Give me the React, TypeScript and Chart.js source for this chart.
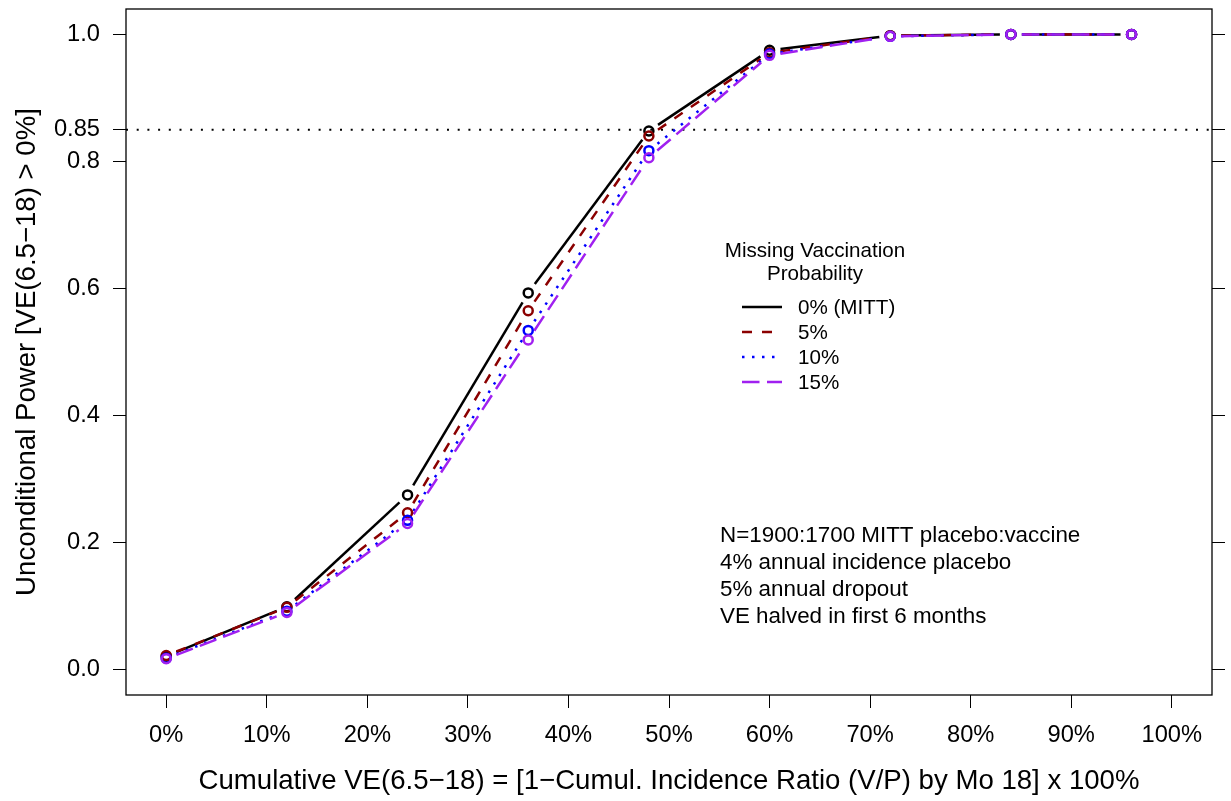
import React, { useEffect, useRef } from "react";
import { Chart, registerables } from "chart.js";

Chart.register(...registerables);

// ---------- data ----------
const veLevels = [0, 12, 24, 36, 48, 60, 72, 84, 96];
const powerMITT = [0.021, 0.099, 0.275, 0.593, 0.848, 0.975, 0.998, 1.0, 1.0];
const power5 = [0.022, 0.098, 0.247, 0.565, 0.84, 0.971, 0.998, 1.0, 1.0];
const power10 = [0.018, 0.092, 0.235, 0.534, 0.817, 0.969, 0.997, 1.0, 1.0];
const power15 = [0.017, 0.09, 0.23, 0.519, 0.806, 0.967, 0.997, 1.0, 1.0];
const seriesLabels = ["0% (MITT)", "5%", "10%", "15%"];

const xTickValues = [0, 10, 20, 30, 40, 50, 60, 70, 80, 90, 100];
const xTickLabels = ["0%", "10%", "20%", "30%", "40%", "50%", "60%", "70%", "80%", "90%", "100%"];
const yTickValues = [0, 0.2, 0.4, 0.6, 0.8, 0.85, 1.0];
const yTickLabels = ["0.0", "0.2", "0.4", "0.6", "0.8", "0.85", "1.0"];
const powerTarget = 0.85;

const legendTitle = ["Missing Vaccination", "Probability"];
const noteLines = [
  "N=1900:1700 MITT placebo:vaccine",
  "4% annual incidence placebo",
  "5% annual dropout",
  "VE halved in first 6 months",
];
const xTitle = "Cumulative VE(6.5\u221218) = [1\u2212Cumul. Incidence Ratio (V/P) by Mo 18] x 100%";
const yTitle = "Unconditional Power [VE(6.5\u221218) > 0%]";

// ---------- styles ----------
const FONT = "'Liberation Sans', Arial, Helvetica, sans-serif";
const colors = ["#000000", "#8B0000", "#0000FF", "#A020F0"];
const dashes = [[], [10, 10], [2.5, 7.5], [17.5, 7.5]];
const LW = 2.5;
const GAP = 11;

const rPlot = {
  id: "rPlot",
  beforeDatasetsDraw(chart: any) {
    const { ctx, chartArea: a, scales } = chart;
    const y = scales.y;
    ctx.save();
    // dotted reference line
    ctx.strokeStyle = "#000";
    ctx.lineWidth = 2;
    ctx.lineCap = "butt";
    ctx.setLineDash([2, 8.7]);
    const yy = y.getPixelForValue(powerTarget);
    ctx.beginPath();
    ctx.moveTo(a.left, yy);
    ctx.lineTo(a.right, yy);
    ctx.stroke();
    // R type="b" lines with gaps around points
    chart.data.datasets.forEach((ds: any, i: number) => {
      const meta = chart.getDatasetMeta(i);
      ctx.strokeStyle = colors[i];
      ctx.lineWidth = LW;
      ctx.setLineDash(dashes[i]);
      for (let k = 0; k < meta.data.length - 1; k++) {
        const p1 = meta.data[k];
        const p2 = meta.data[k + 1];
        const dx = p2.x - p1.x;
        const dy = p2.y - p1.y;
        const d = Math.sqrt(dx * dx + dy * dy);
        if (d <= 2 * GAP) continue;
        const ux = dx / d;
        const uy = dy / d;
        ctx.lineDashOffset = 0;
        ctx.beginPath();
        ctx.moveTo(p1.x + ux * GAP, p1.y + uy * GAP);
        ctx.lineTo(p2.x - ux * GAP, p2.y - uy * GAP);
        ctx.stroke();
      }
    });
    ctx.restore();
  },
  afterDraw(chart: any) {
    const { ctx, chartArea: a } = chart;
    ctx.save();
    ctx.setLineDash([]);
    // box
    ctx.strokeStyle = "#000";
    ctx.lineWidth = 1.3;
    ctx.strokeRect(a.left, a.top, a.right - a.left, a.bottom - a.top);

    ctx.fillStyle = "#000";
    // legend
    ctx.font = `20.6px ${FONT}`;
    ctx.textAlign = "center";
    ctx.textBaseline = "middle";
    ctx.fillText(legendTitle[0], 815, 251);
    ctx.fillText(legendTitle[1], 815, 274);
    ctx.textAlign = "left";
    seriesLabels.forEach((lab, i) => {
      const ry = 307 + i * 25;
      ctx.strokeStyle = colors[i];
      ctx.lineWidth = LW;
      ctx.setLineDash(dashes[i]);
      ctx.lineDashOffset = 0;
      ctx.beginPath();
      ctx.moveTo(742, ry);
      ctx.lineTo(782, ry);
      ctx.stroke();
      ctx.fillText(lab, 798, ry + 1);
    });
    ctx.setLineDash([]);

    // notes
    ctx.font = `22.4px ${FONT}`;
    noteLines.forEach((t, i) => ctx.fillText(t, 720, 536 + i * 27));

    // axis titles
    ctx.font = `27.6px ${FONT}`;
    ctx.textAlign = "center";
    ctx.fillText(xTitle, (a.left + a.right) / 2, 781);
    ctx.translate(27, (a.top + a.bottom) / 2);
    ctx.rotate(-Math.PI / 2);
    ctx.fillText(yTitle, 0, 0);
    ctx.restore();
  },
};

export default function App() {
  const ref = useRef<HTMLCanvasElement>(null);
  useEffect(() => {
    if (!ref.current) return;
    const series = [powerMITT, power5, power10, power15];
    const yTicksBuild = (scale: any) => {
      scale.ticks = yTickValues.map((v) => ({ value: v }));
    };
    const gridCommon = {
      display: true,
      drawOnChartArea: false,
      drawTicks: true,
      tickLength: 13,
      color: "#000",
      lineWidth: 1,
    };
    const tickFont = { family: FONT, size: 23.7, lineHeight: 1.2 };
    const chart = new Chart(ref.current, {
      type: "scatter",
      data: {
        datasets: series.map((vals, i) => ({
          label: seriesLabels[i],
          data: veLevels.map((x, k) => ({ x, y: vals[k] })),
          showLine: false,
          borderColor: colors[i],
          backgroundColor: "rgba(0,0,0,0)",
          pointBackgroundColor: "rgba(0,0,0,0)",
          pointBorderColor: colors[i],
          pointBorderWidth: 2.5,
          pointRadius: 4.5,
          pointHoverRadius: 4.5,
          order: 3 - i,
          clip: false as any,
        })),
      },
      options: {
        animation: false,
        responsive: false,
        events: [],
        layout: { padding: { top: 9, left: 0, right: 0, bottom: 0 } },
        plugins: {
          legend: { display: false },
          tooltip: { enabled: false },
          title: { display: false },
        },
        scales: {
          x: {
            type: "linear",
            position: "bottom",
            min: -4,
            max: 104,
            afterBuildTicks: (scale: any) => {
              scale.ticks = xTickValues.map((v) => ({ value: v }));
            },
            afterFit: (scale: any) => {
              scale.height = 106;
              scale.paddingLeft = 0;
              scale.paddingRight = 0;
            },
            grid: gridCommon,
            border: { display: false },
            ticks: {
              autoSkip: false,
              maxRotation: 0,
              minRotation: 0,
              padding: 13,
              color: "#000",
              font: tickFont,
              callback: (v: any) => {
                const idx = xTickValues.indexOf(Number(v));
                return idx >= 0 ? xTickLabels[idx] : "";
              },
            },
          },
          y: {
            type: "linear",
            position: "left",
            min: -0.04,
            max: 1.04,
            afterBuildTicks: yTicksBuild,
            afterFit: (scale: any) => {
              scale.width = 126;
              scale.paddingTop = 0;
              scale.paddingBottom = 0;
            },
            grid: gridCommon,
            border: { display: false },
            ticks: {
              autoSkip: false,
              padding: 13,
              color: "#000",
              font: tickFont,
              callback: (v: any) => {
                const idx = yTickValues.findIndex((t) => Math.abs(t - Number(v)) < 1e-9);
                return idx >= 0 ? yTickLabels[idx] : "";
              },
            },
          },
          y2: {
            type: "linear",
            position: "right",
            min: -0.04,
            max: 1.04,
            afterBuildTicks: yTicksBuild,
            afterFit: (scale: any) => {
              scale.width = 19;
              scale.paddingTop = 0;
              scale.paddingBottom = 0;
            },
            grid: gridCommon,
            border: { display: false },
            ticks: { display: false },
          },
        },
      } as any,
      plugins: [rPlot],
    });
    return () => chart.destroy();
  }, []);

  return (
    <div style={{ position: "absolute", left: 0, top: 0, width: 1231, height: 801, background: "#fff" }}>
      <canvas ref={ref} width={1231} height={801} style={{ display: "block" }} />
    </div>
  );
}
